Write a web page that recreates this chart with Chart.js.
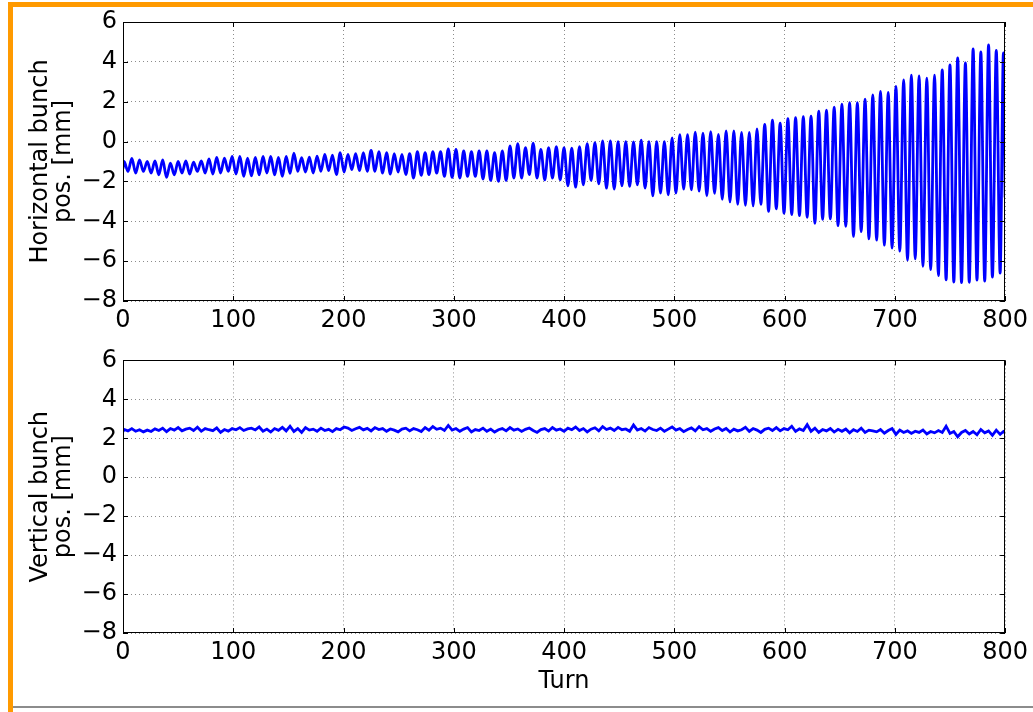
<!DOCTYPE html>
<html>
<head>
<meta charset="utf-8">
<script src="https://cdn.jsdelivr.net/npm/chart.js@4.4.0/dist/chart.umd.min.js"></script>
<style>
  html, body { margin: 0; padding: 0; background: #fff; }
  body { width: 1033px; height: 712px; position: relative; overflow: hidden; }
  canvas { position: absolute; left: 0; }
  #horizontal { top: 0; }
  #vertical { top: 340px; }
  .frame { position: absolute; left: 8px; top: 2px; right: 0; bottom: 0; border-left: 5px solid #ff9a00; border-top: 5px solid #ff9a00; }
  .rule { position: absolute; left: 13px; right: 0; top: 706px; height: 2px; background: #8c8c8c; }
</style>
</head>
<body>
<canvas id="horizontal" width="1033" height="340"></canvas>
<canvas id="vertical" width="1033" height="372"></canvas>
<div class="frame"></div>
<div class="rule"></div>
<script>
// turn numbers of the samples (oscillation peaks and troughs, period ~7 turns)
const turns = [0,
  1, 4.5, 8, 11.5, 15, 18.5, 22, 25.5, 29, 32.5, 36, 39.5, 43, 46.5,
  50, 53.5, 57, 60.5, 64, 67.5, 71, 74.5, 78, 81.5, 85, 88.5, 92, 95.5,
  99, 102.5, 106, 109.5, 113, 116.5, 120, 123.5, 127, 130.5, 134, 137.5, 141, 144.5,
  148, 151.5, 155, 158.5, 162, 165.5, 169, 172.5, 176, 179.5, 183, 186.5, 190, 193.5,
  197, 200.5, 204, 207.5, 211, 214.5, 218, 221.5, 225, 228.5, 232, 235.5, 239, 242.5,
  246, 249.5, 253, 256.5, 260, 263.5, 267, 270.5, 274, 277.5, 281, 284.5, 288, 291.5,
  295, 298.5, 302, 305.5, 309, 312.5, 316, 319.5, 323, 326.5, 330, 333.5, 337, 340.5,
  344, 347.5, 351, 354.5, 358, 361.5, 365, 368.5, 372, 375.5, 379, 382.5, 386, 389.5,
  393, 396.5, 400, 403.5, 407, 410.5, 414, 417.5, 421, 424.5, 428, 431.5, 435, 438.5,
  442, 445.5, 449, 452.5, 456, 459.5, 463, 466.5, 470, 473.5, 477, 480.5, 484, 487.5,
  491, 494.5, 498, 501.5, 505, 508.5, 512, 515.5, 519, 522.5, 526, 529.5, 533, 536.5,
  540, 543.5, 547, 550.5, 554, 557.5, 561, 564.5, 568, 571.5, 575, 578.5, 582, 585.5,
  589, 592.5, 596, 599.5, 603, 606.5, 610, 613.5, 617, 620.5, 624, 627.5, 631, 634.5,
  638, 641.5, 645, 648.5, 652, 655.5, 659, 662.5, 666, 669.5, 673, 676.5, 680, 683.5,
  687, 690.5, 694, 697.5, 701, 704.5, 708, 711.5, 715, 718.5, 722, 725.5, 729, 732.5,
  736, 739.5, 743, 746.5, 750, 753.5, 757, 760.5, 764, 767.5, 771, 774.5, 778, 781.5,
  785, 788.5, 792, 795.5, 798.5, 800
];

// horizontal bunch position [mm]
const horizontalPos = [-1.35,
  -1.0, -1.5, -0.85, -1.58, -0.92, -1.5, -1.0, -1.58, -0.97, -1.67, -0.92, -1.8, -1.08, -1.67,
  -1.0, -1.58, -0.97, -1.63, -1.03, -1.5, -0.97, -1.58, -0.87, -1.63, -0.8, -1.58, -0.83, -1.5,
  -0.75, -1.63, -0.75, -1.75, -0.83, -1.72, -0.8, -1.67, -0.75, -1.58, -0.75, -1.67, -0.8, -1.75,
  -0.75, -1.6, -0.58, -1.49, -0.81, -1.53, -0.78, -1.58, -0.73, -1.49, -0.64, -1.46, -0.68, -1.66,
  -0.56, -1.53, -0.64, -1.41, -0.61, -1.46, -0.56, -1.49, -0.44, -1.49, -0.51, -1.58, -0.56, -1.63,
  -0.61, -1.53, -0.64, -1.66, -0.61, -1.83, -0.51, -1.69, -0.56, -1.66, -0.51, -1.58, -0.51, -1.75,
  -0.37, -1.8, -0.39, -1.83, -0.47, -1.75, -0.5, -1.75, -0.47, -1.88, -0.47, -1.95, -0.56, -2.0,
  -0.47, -1.95, -0.22, -1.83, -0.1, -1.83, -0.3, -1.66, -0.08, -1.83, -0.39, -1.92, -0.3, -1.83,
  -0.25, -1.92, -0.3, -2.22, -0.33, -2.29, -0.25, -2.17, -0.1, -1.95, -0.05, -2.12, 0.03, -2.34,
  0.03, -2.39, 0.0, -2.22, 0.0, -2.25, -0.02, -2.17, 0.07, -2.34, 0.0, -2.72, 0.0, -2.59,
  0.0, -2.67, 0.18, -2.59, 0.35, -2.39, 0.35, -2.42, 0.47, -2.49, 0.42, -2.72, 0.5, -2.6,
  0.36, -2.9, 0.53, -3.03, 0.53, -3.15, 0.46, -3.2, 0.46, -3.23, 0.63, -3.15, 0.86, -3.5,
  1.08, -3.37, 0.93, -3.6, 1.15, -3.66, 1.2, -3.72, 1.25, -3.8, 1.28, -4.1, 1.53, -3.9,
  1.58, -3.88, 1.73, -4.22, 1.88, -4.25, 1.95, -4.76, 1.95, -4.52, 2.13, -4.88, 2.34, -4.95,
  2.52, -5.2, 2.47, -5.35, 2.77, -5.5, 3.09, -5.95, 3.33, -5.88, 3.29, -6.26, 3.18, -6.43,
  3.33, -6.72, 3.6, -6.94, 3.85, -7.05, 4.2, -7.08, 3.95, -7.06, 4.65, -6.95, 4.5, -7.0,
  4.85, -6.8, 4.58, -6.6, 4.45, -2.8
];

// vertical bunch position [mm]
const verticalPos = [2.35,
  2.45, 2.38, 2.5, 2.36, 2.44, 2.33, 2.42, 2.35, 2.48, 2.4, 2.52, 2.34, 2.5, 2.42,
  2.55, 2.38, 2.47, 2.52, 2.4, 2.57, 2.36, 2.5, 2.44, 2.39, 2.53, 2.3, 2.45, 2.37,
  2.5, 2.44, 2.55, 2.4, 2.48, 2.52, 2.43, 2.58, 2.36, 2.47, 2.32, 2.5, 2.41, 2.56,
  2.38, 2.62, 2.35, 2.5, 2.3, 2.55, 2.42, 2.47, 2.36, 2.52, 2.4, 2.46, 2.34, 2.5,
  2.44, 2.58, 2.52, 2.4, 2.49, 2.56, 2.43, 2.51, 2.38, 2.55, 2.45, 2.5, 2.36, 2.48,
  2.42, 2.33, 2.47, 2.52, 2.38, 2.5, 2.44, 2.35, 2.55, 2.41, 2.6, 2.46, 2.52, 2.4,
  2.66, 2.42, 2.5, 2.36, 2.47, 2.55, 2.33, 2.45, 2.4, 2.52, 2.36, 2.47, 2.32, 2.44,
  2.5, 2.38, 2.55, 2.42, 2.48, 2.35, 2.46, 2.53, 2.4, 2.3, 2.45, 2.5, 2.37, 2.55,
  2.42, 2.48, 2.36, 2.52, 2.44, 2.58, 2.4, 2.5, 2.33, 2.47, 2.54, 2.38, 2.6, 2.45,
  2.52, 2.4, 2.56, 2.44, 2.48, 2.36, 2.68, 2.42, 2.5, 2.37, 2.55, 2.45, 2.4, 2.52,
  2.36, 2.47, 2.58, 2.42, 2.5, 2.34, 2.45, 2.53, 2.38, 2.6, 2.44, 2.5, 2.36, 2.48,
  2.55, 2.4, 2.5, 2.32, 2.47, 2.38, 2.44, 2.56, 2.35, 2.5, 2.42, 2.3, 2.46, 2.52,
  2.4, 2.55, 2.38, 2.5, 2.44, 2.62, 2.35, 2.48, 2.4, 2.7, 2.36, 2.52, 2.3, 2.45,
  2.38, 2.5, 2.32, 2.46, 2.36, 2.48, 2.28, 2.44, 2.35, 2.52, 2.3, 2.42, 2.38, 2.33,
  2.45, 2.26, 2.4, 2.5, 2.2, 2.42, 2.3, 2.38, 2.25, 2.36, 2.3, 2.42, 2.22, 2.35,
  2.28, 2.4, 2.3, 2.62, 2.25, 2.35, 2.08, 2.3, 2.4, 2.22, 2.35, 2.18, 2.45, 2.28,
  2.38, 2.15, 2.42, 2.2, 2.35, 2.28
];

Chart.defaults.font.family = "'DejaVu Sans', sans-serif";
Chart.defaults.font.size = 24;
Chart.defaults.color = '#000';

// matplotlib-like frame with inward ticks on all four sides
const frameTicks = {
  id: 'frameTicks',
  afterDraw(chart) {
    const {ctx, chartArea: a, scales: {x, y}} = chart;
    const len = 5;
    ctx.save();
    ctx.strokeStyle = '#000';
    ctx.lineWidth = 1;
    ctx.beginPath();
    x.ticks.forEach(t => {
      const px = Math.round(x.getPixelForValue(t.value)) + 0.5;
      ctx.moveTo(px, a.bottom); ctx.lineTo(px, a.bottom - len);
      ctx.moveTo(px, a.top); ctx.lineTo(px, a.top + len);
    });
    y.ticks.forEach(t => {
      const py = Math.round(y.getPixelForValue(t.value)) + 0.5;
      ctx.moveTo(a.left, py); ctx.lineTo(a.left + len, py);
      ctx.moveTo(a.right, py); ctx.lineTo(a.right - len, py);
    });
    ctx.stroke();
    ctx.strokeRect(Math.round(a.left) + 0.5, Math.round(a.top) + 0.5,
      Math.round(a.width) - 1, Math.round(a.height) - 1);
    ctx.restore();
  }
};

function createPanel(elementId, values, yTitle, xTitle, padTop, xHeight, smooth) {
  return new Chart(document.getElementById(elementId), {
    type: 'line',
    data: {
      datasets: [{
        data: turns.map((t, i) => ({x: t, y: values[i]})),
        borderColor: '#0000ff',
        borderWidth: 2.8,
        pointRadius: 0,
        cubicInterpolationMode: smooth ? 'monotone' : 'default',
        tension: 0,
        fill: false
      }]
    },
    options: {
      responsive: false,
      animation: false,
      devicePixelRatio: 1,
      layout: { padding: { left: 0, top: padTop, right: 25, bottom: 0 } },
      plugins: { legend: { display: false }, tooltip: { enabled: false } },
      scales: {
        x: {
          type: 'linear',
          min: 0,
          max: 800,
          afterFit: s => { s.height = xHeight; },
          ticks: { stepSize: 100, padding: 5, maxRotation: 0 },
          grid: { color: 'rgba(0,0,0,0.45)', lineWidth: 1, drawTicks: false },
          border: { display: false, dash: [1, 3] },
          title: {
            display: !!xTitle,
            text: xTitle,
            font: { size: 24 },
            padding: { top: 0, bottom: 16 }
          }
        },
        y: {
          min: -8,
          max: 6,
          afterFit: s => { s.width = 123; },
          ticks: {
            stepSize: 2,
            padding: 6,
            callback: v => v < 0 ? '\u2212' + (-v) : String(v)
          },
          grid: { color: 'rgba(0,0,0,0.45)', lineWidth: 1, drawTicks: false },
          border: { display: false, dash: [1, 3] },
          title: {
            display: true,
            text: yTitle,
            font: { size: 24, lineHeight: 0.96 },
            padding: { top: 29.5, bottom: 0 }
          }
        }
      }
    },
    plugins: [frameTicks]
  });
}

const horizontalChart = createPanel('horizontal', horizontalPos, ['Horizontal bunch', 'pos. [mm]'], '', 22, 39, true);
const verticalChart = createPanel('vertical', verticalPos, ['Vertical bunch', 'pos. [mm]'], 'Turn', 17, 79, false);
</script>
</body>
</html>
